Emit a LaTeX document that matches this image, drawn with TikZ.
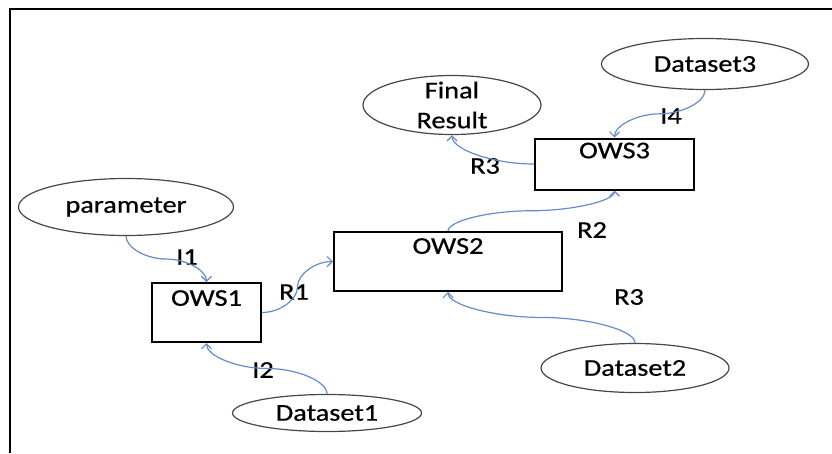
\documentclass[tikz,border=0pt]{standalone}
\usepackage{fontspec}
\setmainfont{Carlito}[FakeStretch=1.18,FakeBold=0.6]
\usetikzlibrary{shapes.geometric,arrows.meta,calc}
\definecolor{connblue}{RGB}{100,140,200}
\definecolor{ellgray}{RGB}{70,70,70}
% S-shaped connector with vertical ends
\newcommand{\vcurve}[2]{\draw[conn] let \p1=(#1), \p2=(#2), \p3=($(\p1)!0.25!(\p2)$), \p4=($(\p1)!0.5!(\p2)$), \p5=($(\p1)!0.75!(\p2)$) in (#1) .. controls (\x1,\y3) and (\x3,\y4) .. (\p4) .. controls (\x5,\y4) and (\x2,\y5) .. (#2);}
% S-shaped connector with horizontal ends
\newcommand{\hcurve}[2]{\draw[conn] let \p1=(#1), \p2=(#2), \p3=($(\p1)!0.25!(\p2)$), \p4=($(\p1)!0.5!(\p2)$), \p5=($(\p1)!0.75!(\p2)$) in (#1) .. controls (\x3,\y1) and (\x4,\y3) .. (\p4) .. controls (\x4,\y5) and (\x5,\y2) .. (#2);}
% single bend: horizontal start, vertical end
\newcommand{\lcurve}[2]{\draw[conn] let \p1=(#1), \p2=(#2), \p4=($(\p1)!0.5!(\p2)$) in (#1) .. controls (\x4,\y1) and (\x2,\y4) .. (#2);}
\begin{document}
\begin{tikzpicture}[x=1pt,y=-1pt,
  every node/.style={font=\fontsize{24}{30}\selectfont},
  ell/.style={ellipse, draw=ellgray, line width=1.2pt, inner sep=0pt},
  box/.style={rectangle, draw=black, line width=2pt, inner sep=0pt},
  boxtitle/.style={anchor=north, inner sep=0pt},
  conn/.style={draw=connblue, line width=1.2pt, -{Straight Barb[length=5pt,width=10pt]}},
  lbl/.style={inner sep=0pt}]
\useasboundingbox (0,0) rectangle (832,453);
\draw[line width=2pt] (832,9) -- (10,9) -- (10,453);

% ellipses
\node[ell, minimum width=215pt, minimum height=57pt] (param) at (126,207) {parameter};
\node[ell, minimum width=189pt, minimum height=37pt] (d1) at (327,413) {Dataset1};
\node[ell, minimum width=188pt, minimum height=49pt] (d2) at (635,368) {Dataset2};
\node[ell, minimum width=207pt, minimum height=51pt] (d3) at (705,64) {Dataset3};
\node[ell, minimum width=178pt, minimum height=59pt, align=center, inner xsep=0pt, inner ysep=-4pt] (final) at (452,105) {Final\\Result};

% boxes
\node[box, minimum width=109pt, minimum height=59pt, label={[boxtitle, yshift=-8pt]north:OWS1}] (ows1) at (206.5,312.5) {};
\node[box, minimum width=228pt, minimum height=59pt, label={[boxtitle, yshift=-7pt]north:OWS2}] (ows2) at (448,261.5) {};
\node[box, minimum width=159pt, minimum height=51pt, label={[boxtitle, yshift=-5pt]north:OWS3}] (ows3) at (614.5,164) {};

% connector labels
\node[lbl] (li1) at (187,257) {I1};
\node[lbl] (li2) at (263,370) {I2};
\node[lbl] (lr1) at (294,292) {R1};
\node[lbl] (lr2) at (592,230) {R2};
\node[lbl] (lr3a) at (485,166) {R3};
\node[lbl] (lr3b) at (629,297) {R3};
\node[lbl] (li4) at (671,116) {I4};

% connectors
\vcurve{param.south}{ows1.north}
\vcurve{d1.north}{ows1.south}
\hcurve{ows1.east}{ows2.west}
\vcurve{ows2.north}{ows3.south}
\vcurve{d2.north}{ows2.south}
\lcurve{ows3.west}{final.south}
\vcurve{d3.south}{ows3.north}
\end{tikzpicture}
\end{document}
